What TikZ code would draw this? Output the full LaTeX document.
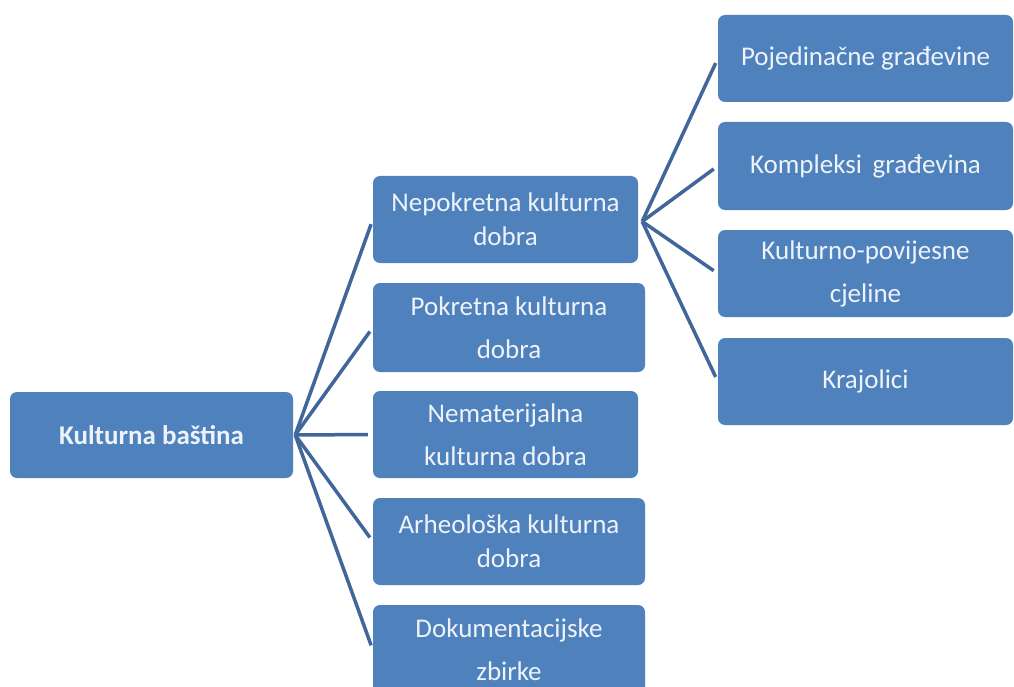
\documentclass[tikz,border=0pt]{standalone}
\usepackage{fontspec}
\setmainfont{Carlito}
\definecolor{boxblue}{HTML}{4F81BD}
\definecolor{linkblue}{HTML}{41669A}
\definecolor{boxtext}{HTML}{EEF3FA}
\tikzset{
  box/.style={draw=none, fill=boxblue, rounded corners=7pt, inner sep=0pt,
    text=boxtext, align=center, font=\fontsize{27}{43}\selectfont},
  tight/.style={font=\fontsize{27}{34}\selectfont},
  link/.style={draw=linkblue, line width=3.5pt, shorten >=5pt}
}
\begin{document}
\begin{tikzpicture}[x=1pt,y=-1pt]
\useasboundingbox (0,0) rectangle (1014,687);
\fill[white] (0,0) rectangle (1014,687);
% root
\node[box, minimum width=283pt, minimum height=86pt, font=\fontsize{27}{43}\bfseries\selectfont] (root) at (151.5,435) {Kulturna baština};
% middle column
\node[box, tight, minimum width=265pt, minimum height=87pt] (n1) at (505.5,219.5) {Nepokretna kulturna\\dobra};
\node[box, minimum width=272pt, minimum height=89pt] (n2) at (509,327.5) {Pokretna kulturna\\dobra};
\node[box, minimum width=265pt, minimum height=87pt] (n3) at (505.5,434.5) {Nematerijalna\\kulturna dobra};
\node[box, tight, minimum width=272pt, minimum height=87pt] (n4) at (509,541.5) {Arheološka kulturna\\dobra};
\node[box, minimum width=272pt, minimum height=90pt] (n5) at (509,650) {Dokumentacijske\\zbirke};
% right column
\node[box, minimum width=295pt, minimum height=87pt] (r1) at (865.5,58.5) {Pojedinačne građevine};
\node[box, minimum width=295pt, minimum height=88pt] (r2) at (865.5,166) {Kompleksi\, građevina};
\node[box, minimum width=295pt, minimum height=87pt] (r3) at (865.5,273.5) {Kulturno-povijesne\\cjeline};
\node[box, minimum width=295pt, minimum height=87pt] (r4) at (865.5,381.5) {Krajolici};
% connectors
\coordinate (f0) at ([xshift=2pt]root.east);
\foreach \t in {n1,n2,n3,n4,n5} \draw[link] (f0) -- (\t.west);
\coordinate (f1) at ([xshift=4pt,yshift=-2pt]n1.east);
\foreach \t in {r1,r2,r3,r4} \draw[link] (f1) -- (\t.west);
\end{tikzpicture}
\end{document}
